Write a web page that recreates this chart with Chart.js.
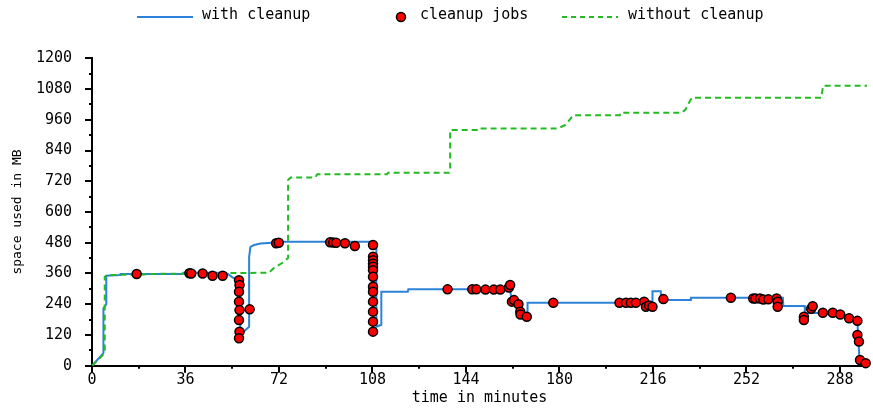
<!DOCTYPE html>
<html><head><meta charset="utf-8">
<script src="https://cdn.jsdelivr.net/npm/chart.js@4"></script>
<style>html,body{margin:0;padding:0;background:#fff}#wrap{width:873px;height:409px}</style>
</head><body><div id="wrap"><canvas id="c" width="873" height="409"></canvas></div>
<script>
const seriesNames = ['with cleanup', 'cleanup jobs', 'without cleanup'];

const withCleanupX = [0, 3.8, 4.4, 4.4, 5.5, 5.5, 10.8, 11, 34.9, 35.2, 51.6, 54.1, 56, 57.1, 57.1, 59.2, 60.5, 60.5, 61, 62.4, 64.9, 70.7, 71, 107.5, 108.5, 109.5, 109.5, 111.4, 111.4, 121.6, 121.8, 161, 161.5, 166.5, 167.7, 167.7, 215.8, 215.8, 219, 219.2, 230.4, 230.6, 266, 266.2, 274.4, 274.5, 281.4, 288.1, 291.5, 294.7, 295, 295.5, 297.9];
const withCleanupY = [0, 42, 50, 224, 240, 351, 354, 358, 358, 363, 363, 345, 334, 330, 120, 140, 152, 425, 464, 471, 477, 481, 484, 484, 475, 470, 152, 160, 289, 289, 298, 298, 256, 190, 190, 246, 246, 291, 291, 256, 256, 265, 265, 233, 233, 205, 207, 200, 187, 172, 120, 22, 5];

const jobsX = [17.2, 37.5, 38.2, 42.6, 46.4, 50.3,
  56.6, 56.8, 56.6, 56.6, 56.8, 56.6, 56.8, 56.6,
  60.7, 70.9, 71.9, 91.7, 92.9, 94, 97.4, 101.2,
  108.2, 108.2, 108.2, 108.2, 108.2, 108.2, 108.2, 108.2, 108.2, 108.2, 108.2, 108.2, 108.2,
  136.9, 146.4, 148, 151.5, 154.7, 157.2, 160.5, 161, 161.7, 162.5, 164.2, 164.9, 165, 167.4, 177.6,
  203.1, 205.6, 207.5, 209.4, 212.6, 213.3, 214.5, 215.8, 220,
  246, 254.6, 255.5, 257.2, 258.5, 260.4, 263.6, 264, 264,
  274.1, 274.1, 276.9, 277.5, 281.4, 285.2, 288.1, 291.5, 294.7, 294.7, 295.3, 295.7, 297.9];
const jobsY = [358, 361, 360, 360, 351, 351,
  334, 315, 289, 250, 217, 178, 133, 107,
  220, 478, 480, 482, 481, 480, 478, 467,
  471, 425, 412, 398, 386, 373, 347, 308, 289, 250, 211, 172, 133,
  298, 298, 298, 297, 297, 297, 305, 315, 250, 256, 240, 211, 200, 191, 246,
  246, 246, 246, 246, 250, 230, 235, 230, 260,
  265, 262, 262, 262, 258, 259, 262, 250, 230,
  191, 178, 222, 232, 207, 207, 200, 185, 175, 120, 94, 22, 10];

const withoutCleanupX = [0, 4.2, 4.9, 4.9, 6, 20, 22, 68.1, 70, 73.2, 75.5, 75.5, 76.5, 86, 86.7, 113.6, 114, 137.5, 137.9, 137.9, 149.4, 149.6, 179.3, 182.3, 185.3, 203.2, 203.4, 227, 228.5, 230.9, 280.8, 281.5, 298.4];
const withoutCleanupY = [0, 42, 60, 347, 354, 356, 358, 363, 381, 401, 420, 725, 735, 735, 747, 747, 753, 753, 764, 920, 920, 926, 926, 940, 978, 978, 987, 987, 1000, 1046, 1046, 1093, 1093];

const xTickValues = [0, 36, 72, 108, 144, 180, 216, 252, 288];
const xMinorValues = [18, 54, 90, 126, 162, 198, 234, 270];
const yTickValues = [0, 120, 240, 360, 480, 600, 720, 840, 960, 1080, 1200];
const yMinorValues = [60, 180, 300, 420, 540, 660, 780, 900, 1020, 1140];

const FONT = "'DejaVu Sans Mono', monospace";
const BLUE = '#2c82d8', GREEN = '#22bb22', RED = '#ff0000';

function pts(xs, ys) { return xs.map((x, i) => ({x: x, y: ys[i]})); }

const tickPlugin = {
  id: 'ticksAndLegend',
  afterDraw(chart) {
    const ctx = chart.ctx, xs = chart.scales.x, ys = chart.scales.y;
    const ca = chart.chartArea;
    ctx.save();
    ctx.strokeStyle = '#000';
    ctx.lineWidth = 2;
    ctx.beginPath();
    xTickValues.forEach(v => { const p = Math.round(xs.getPixelForValue(v)); ctx.moveTo(p, ca.bottom); ctx.lineTo(p, ca.bottom + 7); });
    xMinorValues.forEach(v => { const p = Math.round(xs.getPixelForValue(v)); ctx.moveTo(p, ca.bottom); ctx.lineTo(p, ca.bottom + 3); });
    yTickValues.forEach(v => { const p = Math.round(ys.getPixelForValue(v)); ctx.moveTo(ca.left, p); ctx.lineTo(ca.left - 7, p); });
    yMinorValues.forEach(v => { const p = Math.round(ys.getPixelForValue(v)); ctx.moveTo(ca.left, p); ctx.lineTo(ca.left - 3, p); });
    ctx.stroke();

    // legend
    const ds = chart.data.datasets;
    ctx.font = '15px ' + FONT;
    ctx.textBaseline = 'middle';
    ctx.fillStyle = '#000';
    ctx.strokeStyle = BLUE; ctx.lineWidth = 2; ctx.setLineDash([]);
    ctx.beginPath(); ctx.moveTo(137, 17); ctx.lineTo(193, 17); ctx.stroke();
    ctx.fillText(ds[0].label, 202, 15);
    ctx.fillStyle = RED; ctx.strokeStyle = '#000'; ctx.lineWidth = 1.5;
    ctx.beginPath(); ctx.arc(401, 17, 4.5, 0, Math.PI * 2); ctx.fill(); ctx.stroke();
    ctx.fillStyle = '#000';
    ctx.fillText(ds[1].label, 420, 15);
    ctx.strokeStyle = GREEN; ctx.lineWidth = 2; ctx.setLineDash([5, 4]);
    ctx.beginPath(); ctx.moveTo(562, 17); ctx.lineTo(618, 17); ctx.stroke();
    ctx.setLineDash([]);
    ctx.fillText(ds[2].label, 628, 15);
    ctx.restore();
  }
};

new Chart(document.getElementById('c'), {
  type: 'scatter',
  data: {
    datasets: [
      { label: seriesNames[0], data: pts(withCleanupX, withCleanupY), showLine: true, borderColor: BLUE, borderWidth: 2, pointRadius: 0, tension: 0, order: 2, clip: false },
      { label: seriesNames[1], data: pts(jobsX, jobsY), showLine: false, backgroundColor: RED, borderColor: '#000', borderWidth: 1.5, pointRadius: 4.5, pointStyle: 'circle', order: 0, clip: false },
      { label: seriesNames[2], data: pts(withoutCleanupX, withoutCleanupY), showLine: true, borderColor: GREEN, borderWidth: 2, borderDash: [6, 4], pointRadius: 0, tension: 0, order: 1, clip: false }
    ]
  },
  options: {
    responsive: false,
    animation: false,
    devicePixelRatio: 1,
    layout: { padding: { top: 58.3, left: 0, right: 0, bottom: 0 } },
    plugins: { legend: { display: false }, tooltip: { enabled: false } },
    scales: {
      x: {
        type: 'linear', min: 0, max: 298.4,
        grid: { display: false, drawTicks: false },
        border: { display: true, color: '#000', width: 2 },
        ticks: { stepSize: 36, includeBounds: false, autoSkip: false, maxRotation: 0, color: '#000', padding: 5, font: { family: FONT, size: 15 }, callback: v => String(v) },
        title: { display: true, text: 'time in minutes', color: '#000', font: { family: FONT, size: 15 }, padding: { top: 0, bottom: 2 } },
        afterFit(s) { s.height = 43.3; }
      },
      y: {
        type: 'linear', min: 0, max: 1200,
        grid: { display: false, drawTicks: false },
        border: { display: true, color: '#000', width: 2 },
        ticks: { stepSize: 120, color: '#000', padding: 20, font: { family: FONT, size: 15 }, callback: v => String(v) },
        title: { display: true, text: 'space used in MB', color: '#000', font: { family: FONT, size: 13 }, padding: { top: 10, bottom: 0 } },
        afterFit(s) { s.width = 92; }
      }
    }
  },
  plugins: [tickPlugin]
});
</script></body></html>
